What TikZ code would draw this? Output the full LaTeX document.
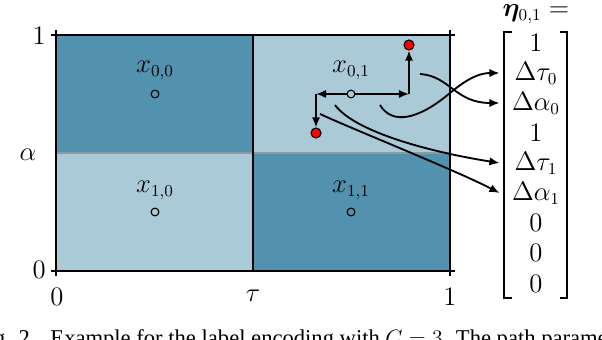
\documentclass[tikz,border=0pt]{standalone}
\usepackage{fontspec}
\usepackage{bm}
\usetikzlibrary{arrows.meta}
\newfontfamily\capfont{Liberation Serif}
\definecolor{cdark}{HTML}{5292AE}
\definecolor{clight}{HTML}{AACAD7}
\definecolor{cgrid}{HTML}{8E9A9F}
\begin{document}
\begin{tikzpicture}[x=0.54pt,y=-0.54pt,
  every node/.style={font=\fontsize{13.5pt}{16pt}\selectfont},
  frame/.style={line width=1pt,black},
  arr/.style={line width=1pt,-{Latex[length=5.5pt,width=4.5pt]}},
  pt/.style={circle,draw=black,line width=0.6pt,minimum size=4.2pt,inner sep=0pt},
  redpt/.style={circle,draw=black,fill=red,line width=0.6pt,minimum size=5.4pt,inner sep=0pt},
  entry/.style={minimum width=38.9pt,inner sep=0pt,anchor=center},
  lbl/.style={inner sep=1pt}]
\useasboundingbox (0,0) rectangle (602,340);
% cells
\fill[cdark] (56,35) rectangle (253,153);
\fill[clight] (253,35) rectangle (450,153);
\fill[clight] (56,153) rectangle (253,271);
\fill[cdark] (253,153) rectangle (450,271);
\draw[cgrid,line width=0.8pt] (56,153) -- (450,153);
\draw[black,line width=0.7pt] (253,35) -- (253,271);
\draw[frame] (56,35) rectangle (450,271);
% ticks
\foreach \px/\py in {56/35,56/271,450/35,450/271}{
  \draw[frame] (\px-5,\py) -- (\px+5,\py);
  \draw[frame] (\px,\py-5) -- (\px,\py+5);
}
% axis labels
\node[lbl,anchor=east] (y1) at (48,36) {$1$};
\node[lbl,anchor=east] (y0) at (48,270) {$0$};
\node[lbl] (x0) at (57,297) {$0$};
\node[lbl] (x1) at (450,297) {$1$};
\node[lbl] (tau) at (253,296) {$\tau$};
\node[lbl] (alpha) at (28,155) {$\alpha$};
% cell labels
\node[lbl] (l00) at (155,70) {$x_{0,0}$};
\node[lbl] (l01) at (351,70) {$x_{0,1}$};
\node[lbl] (l10) at (155,190) {$x_{1,0}$};
\node[lbl] (l11) at (351,190) {$x_{1,1}$};
\node[pt] (c00) at (155,94) {};
\node[pt] (c01) at (351,94) {};
\node[pt] (c10) at (155,212) {};
\node[pt] (c11) at (351,212) {};
% offsets
\node[redpt] (r1) at (409,45) {};
\node[redpt] (r2) at (316,133) {};
\coordinate (cr) at (409,94);
\coordinate (cl) at (316,94);
\draw[arr] (c01.east) -- (cr);
\draw[arr] (cr) -- (r1.south);
\draw[arr] (c01.west) -- (cl);
\draw[arr] (cl) -- (r2.north);
% vector
\node[lbl] (eta) at (536,14) {$\bm{\eta}_{0,1} =$};
\node[entry] (m1) at (536,43) {$1$};
\node[entry] (m2) at (536,73) {$\Delta\tau_0$};
\node[entry] (m3) at (536,103) {$\Delta\alpha_0$};
\node[entry] (m4) at (536,133) {$1$};
\node[entry] (m5) at (536,163) {$\Delta\tau_1$};
\node[entry] (m6) at (536,193) {$\Delta\alpha_1$};
\node[entry] (m7) at (536,223) {$0$};
\node[entry] (m8) at (536,253) {$0$};
\node[entry] (m9) at (536,284) {$0$};
\draw[line width=0.8pt] (512,32) -- (504,32) -- (504,298) -- (512,298);
\draw[line width=0.8pt] (560,32) -- (567,32) -- (567,298) -- (560,298);
% curves
\coordinate (sa) at (420,74);
\coordinate (sb) at (380,105);
\coordinate (sc) at (335,105);
\coordinate (sd) at (320,114);
\draw[arr] (sa) .. controls (450,76) and (455,103) .. (m3.west);
\draw[arr] (sb) .. controls (392,125) and (418,120) .. (450,93) .. controls (468,78) and (480,73) .. (m2.west);
\draw[arr] (sc) .. controls (355,132) and (430,152) .. (m5.west);
\draw[arr] (sd) .. controls (350,128) and (455,170) .. (m6.west);
% caption (cut by page edge)
\node[anchor=base west,inner sep=0pt,font=\capfont\fontsize{12.2pt}{14pt}\selectfont] (cap) at (-25,345) {Fig. 2.\hspace{8pt}Example for the label encoding with $C=3$. The path parameters are};
\end{tikzpicture}
\end{document}
